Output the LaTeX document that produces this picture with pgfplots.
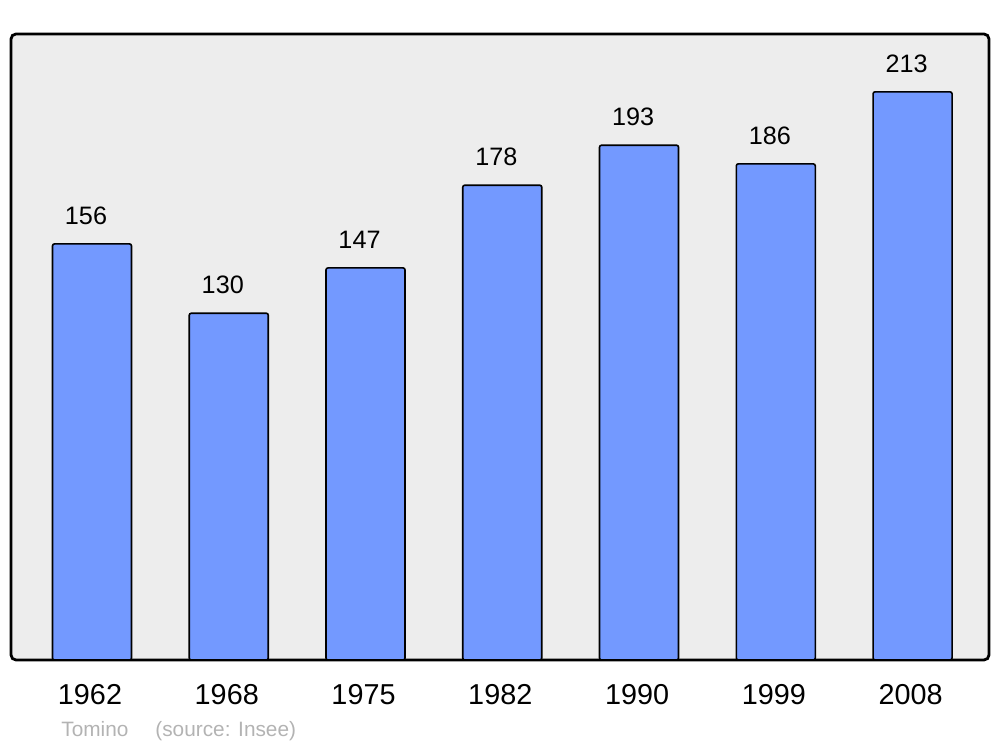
\documentclass[border=0pt]{standalone}
\usepackage{pgfplots}
\pgfplotsset{compat=1.18}
\usepackage{fontspec}
\setmainfont{Liberation Sans}
\definecolor{barblue}{HTML}{7399FF}
\definecolor{panel}{HTML}{EDEDED}
\definecolor{srcgray}{HTML}{B3B3B3}
\begin{document}
\begin{tikzpicture}
\useasboundingbox (0,0) rectangle (500pt,373.5pt);
\begin{axis}[
  at={(5.5pt,43.5pt)}, anchor=south west,
  scale only axis, width=489pt, height=313pt,
  xmin=-0.5923, xmax=6.559, ymin=0, ymax=234.7,
  axis line style={draw=none},
  axis background/.style={fill=panel, draw=black, line width=1.4pt, rounded corners=2.5pt},
  ytick=\empty,
  xtick={0,1,2,3,4,5,6},
  xticklabels={1962,1968,1975,1982,1990,1999,2008},
  major tick length=0pt,
  xticklabel style={anchor=center, yshift=-17.5pt, xshift=-1pt, font=\fontsize{14.4}{16}\selectfont},
  ybar, bar width=39.5pt,
  nodes near coords,
  /pgf/number format/assume math mode=true,
  nodes near coords style={anchor=center, yshift=14pt, xshift=-3pt, font=\fontsize{12.6}{14}\selectfont, text=black},
  clip=false,
]
\addplot[fill=barblue, draw=black, line width=0.8pt, rounded corners=1pt] coordinates {
(0,156) (1,130) (2,147) (3,178) (4,193) (5,186) (6,213)};
\end{axis}
\node[anchor=base west, inner sep=0, text=srcgray, font=\fontsize{10.4}{12}\selectfont] at (30.5pt,5pt) {Tomino};
\node[anchor=base west, inner sep=0, text=srcgray, font=\fontsize{10.4}{12}\selectfont] at (77.5pt,5pt) {(source: Insee)};
\end{tikzpicture}
\end{document}
